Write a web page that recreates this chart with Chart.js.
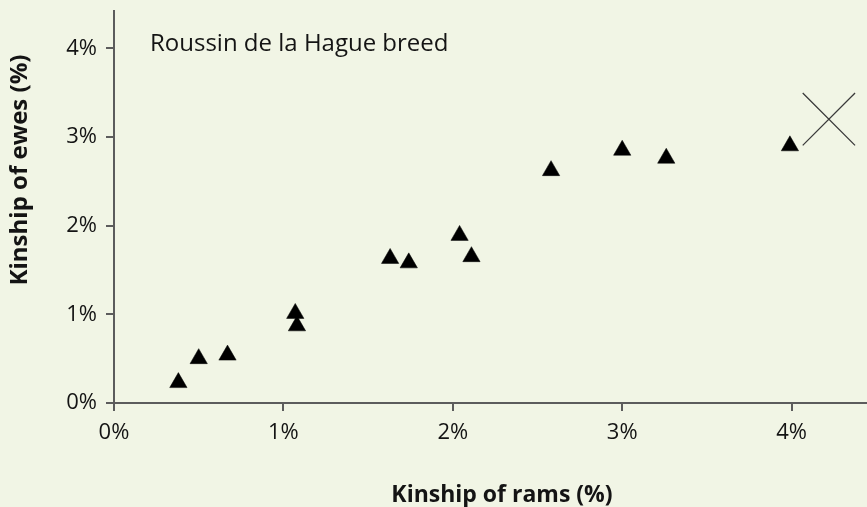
<!DOCTYPE html>
<html>
<head>
<meta charset="utf-8">
<script src="https://cdn.jsdelivr.net/npm/chart.js@4.4.1/dist/chart.umd.min.js"></script>
<style>
  html, body { margin: 0; padding: 0; background: #f1f5e5; }
  #wrap { width: 867px; height: 507px; position: relative; }
</style>
</head>
<body>
<div id="wrap"><canvas id="c"></canvas></div>
<script>
// Data
const ramsKinship = [0.38, 0.50, 0.67, 1.07, 1.08, 1.63, 1.74, 2.04, 2.11, 2.58, 3.00, 3.26, 3.99];
const ewesKinship = [0.23, 0.50, 0.54, 1.01, 0.87, 1.63, 1.58, 1.89, 1.65, 2.62, 2.85, 2.76, 2.90];
const crossMarkerX = [4.22];
const crossMarkerY = [3.20];
const xTickValues = [0, 1, 2, 3, 4];
const yTickValues = [0, 1, 2, 3, 4];
const xTitle = "Kinship of rams (%)";
const yTitle = "Kinship of ewes (%)";
const annotationText = "Roussin de la Hague breed";

const FONT = "'Open Sans', 'DejaVu Sans', sans-serif";
const AXIS_COLOR = "#5c5c5c";
const TEXT_COLOR = "#141414";

const points = ramsKinship.map((x, i) => ({ x: x, y: ewesKinship[i] }));
const cross = crossMarkerX.map((x, i) => ({ x: x, y: crossMarkerY[i] }));

const textPlugin = {
  id: 'texts',
  afterDraw(chart) {
    const ctx = chart.ctx;
    const area = chart.chartArea;
    ctx.save();
    ctx.fillStyle = TEXT_COLOR;
    // annotation
    ctx.font = "24px " + FONT;
    ctx.textAlign = "left";
    ctx.textBaseline = "alphabetic";
    ctx.fillText(annotationText, area.left + 36, 51);
    // x title
    ctx.font = "bold 23px " + FONT;
    ctx.textAlign = "center";
    ctx.fillText(xTitle, 502, 502);
    // y title
    ctx.font = "bold 24px " + FONT;
    ctx.translate(27, 170);
    ctx.rotate(-Math.PI / 2);
    ctx.fillText(yTitle, 0, 0);
    ctx.restore();
  }
};

new Chart(document.getElementById('c'), {
  type: 'scatter',
  data: {
    datasets: [
      {
        data: points,
        pointStyle: 'triangle',
        pointRadius: 10,
        pointHoverRadius: 10,
        backgroundColor: '#000000',
        borderColor: '#000000',
        borderWidth: 0.5,
        clip: false
      },
      {
        data: cross,
        pointStyle: 'crossRot',
        pointRadius: 37,
        pointHoverRadius: 37,
        backgroundColor: 'rgba(0,0,0,0)',
        borderColor: '#3a3a3a',
        borderWidth: 1.3,
        clip: false
      }
    ]
  },
  options: {
    responsive: true,
    maintainAspectRatio: false,
    animation: false,
    events: [],
    layout: { autoPadding: false, padding: { top: 11, right: 0, left: 0, bottom: 0 } },
    plugins: { legend: { display: false }, tooltip: { enabled: false } },
    scales: {
      x: {
        type: 'linear',
        min: 0,
        max: 4.445,
        afterFit(scale) { scale.height = 104; scale.paddingLeft = 0; scale.paddingRight = 0; },
        afterBuildTicks(scale) { scale.ticks = xTickValues.map(v => ({ value: v })); },
        ticks: {
          includeBounds: false,
          stepSize: 1,
          padding: 9,
          color: TEXT_COLOR,
          font: { family: FONT, size: 22 },
          callback: v => v + '%'
        },
        grid: { display: true, drawOnChartArea: false, drawTicks: true, tickLength: 8, color: AXIS_COLOR, lineWidth: 2 },
        border: { display: true, color: AXIS_COLOR, width: 2 }
      },
      y: {
        type: 'linear',
        min: 0,
        max: 4.42,
        afterFit(scale) { scale.width = 114; scale.paddingTop = 0; scale.paddingBottom = 0; },
        afterBuildTicks(scale) { scale.ticks = yTickValues.map(v => ({ value: v })); },
        ticks: {
          includeBounds: false,
          stepSize: 1,
          padding: 9,
          color: TEXT_COLOR,
          font: { family: FONT, size: 22 },
          callback: v => v + '%'
        },
        grid: { display: true, drawOnChartArea: false, drawTicks: true, tickLength: 8, color: AXIS_COLOR, lineWidth: 2 },
        border: { display: true, color: AXIS_COLOR, width: 2 }
      }
    }
  },
  plugins: [textPlugin]
});
</script>
</body>
</html>
